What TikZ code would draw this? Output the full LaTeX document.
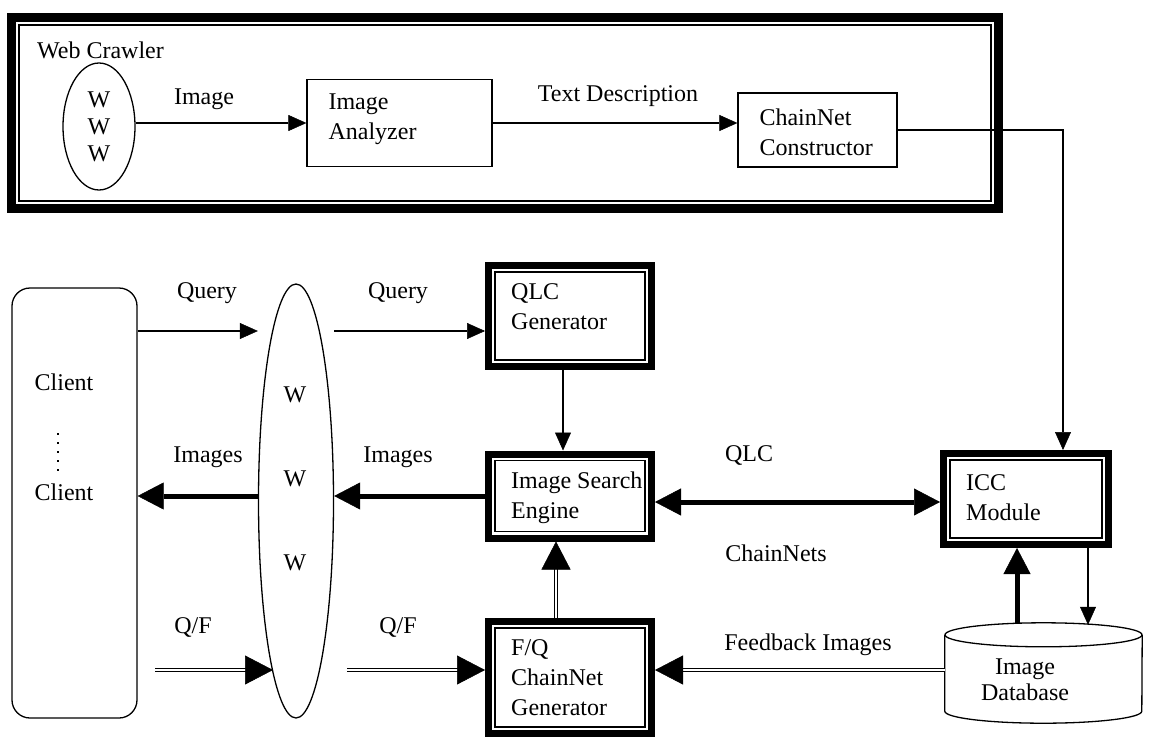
\documentclass[tikz,border=0pt]{standalone}
\usepackage{fontspec}
\setmainfont{Liberation Serif}
\usetikzlibrary{arrows.meta,shapes.geometric,decorations.markings}
\begin{document}
\begin{tikzpicture}[x=1pt,y=-1pt,
  every node/.style={font=\fontsize{24}{30}\selectfont},
  txt/.style={inner sep=0pt, align=left},
  thinbox/.style={draw, line width=1.3pt, inner sep=0pt},
  heavybox/.style={draw, line width=7pt, inner sep=0pt},
  innerline/.style={line width=1.2pt},
  conn/.style={line width=1.3pt},
  arr/.style={conn, -{Triangle[length=18pt,width=16pt,line width=0.5pt]}},
  boldarr/.style={line width=5pt, -{Triangle[length=26pt,width=27pt,line width=0.5pt]}},
  boldboth/.style={line width=5pt, {Triangle[length=26pt,width=27pt,line width=0.5pt]}-{Triangle[length=26pt,width=27pt,line width=0.5pt]}},
  twin/.style={double, double distance=2.6pt, line width=1.1pt, shorten >=22pt,
    postaction={decorate, decoration={markings, mark=at position 1 with {\arrow{Triangle[length=28pt,width=29pt,line width=0.5pt]}}}}},
]
\useasboundingbox (0,0) rectangle (1153,741);
\fill[white] (0,0) rectangle (1153,741);

% ---------- web crawler subsystem ----------
% anchors of a drawn node lie on the outer edge of its border line
\node[heavybox, line width=9pt, minimum width=987pt, minimum height=191pt] (frame) at (505,113) {};
\draw[innerline] ([xshift=12pt,yshift=-12pt]frame.north west) rectangle ([xshift=-12pt,yshift=12pt]frame.south east);
\node[txt, anchor=west] (wc) at (37,50) {Web Crawler};
\node[draw, ellipse, conn, minimum width=72pt, minimum height=127pt, inner sep=0pt] (www) at (99,126.5) {};
\node (w1) at (99,100) {W};
\node (w2) at (99,127) {W};
\node (w3) at (99,154) {W};

\node[thinbox, minimum width=185pt, minimum height=87pt] (ana) at (399.5,123) {};
\node[txt, anchor=west] (anaT) at ([xshift=22pt, yshift=4pt]ana.west) {Image\\Analyzer};
\node[thinbox, minimum width=159pt, minimum height=74pt] (cnc) at (817.5,130) {};
\node[txt, anchor=west] (cncT) at ([xshift=22pt, yshift=-2pt]cnc.west) {ChainNet\\Constructor};

\node (lImage) at (204,99) {Image};
\node (lTD) at (618,96) {Text Description};

% ---------- clients and the web ----------
\node[draw, conn, rounded corners=18pt, minimum width=125pt, minimum height=430pt] (client) at (74.5,503) {};
\node (c1) at (64,382) {Client};
\node (c2) at (64,492) {Client};
\draw[line width=1.5pt, dash pattern=on 1.5pt off 7.5pt] (58,433) -- (58,472);

\node[draw, ellipse, conn, minimum width=75pt, minimum height=434pt, inner sep=0pt] (web) at (296,501) {};
\node (v1) at (295,395) {W};
\node (v2) at (295,479) {W};
\node (v3) at (295,563) {W};

% ---------- server modules ----------
\node[heavybox, minimum width=163pt, minimum height=101pt] (qlc) at (570,316) {};
\node[heavybox, minimum width=163pt, minimum height=84pt] (ise) at (570,496) {};
\node[heavybox, minimum width=163pt, minimum height=112pt] (fq) at (570,677.5) {};
\node[heavybox, minimum width=165pt, minimum height=91pt] (icc) at (1026,499) {};
\foreach \b in {qlc,ise,fq,icc}
  \draw[innerline] ([xshift=10pt,yshift=-10pt]\b.north west) rectangle ([xshift=-10pt,yshift=10pt]\b.south east);
\node[txt, anchor=west] (qlcT) at ([xshift=26pt, yshift=9pt]qlc.west) {QLC\\Generator};
\node[txt, anchor=west] (iseT) at ([xshift=26pt, yshift=-2pt]ise.west) {Image Search\\Engine};
\node[txt, anchor=west] (fqT) at ([xshift=26pt, yshift=0pt]fq.west) {F/Q\\ChainNet\\Generator};
\node[txt, anchor=west] (iccT) at ([xshift=26pt, yshift=1pt]icc.west) {ICC\\Module};

% image database cylinder
\node[minimum width=197pt, minimum height=100pt, inner sep=0pt] (db) at (1043.5,673) {};
\draw[conn] ([yshift=-12pt]db.north) ellipse [x radius=98.5pt, y radius=12pt];
\draw[conn] ([yshift=-12pt]db.north west) -- ([yshift=12pt]db.south west)
  arc[start angle=180, end angle=360, x radius=98.5pt, y radius=12pt] -- ([yshift=-12pt]db.north east);
\node[align=center, inner sep=0pt, font=\fontsize{24}{26}\selectfont] (dbT) at (1025,680) {Image\\Database};

% ---------- connectors ----------
\draw[arr] (www.east |- ana.west) -- (ana.west);
\draw[arr] (ana.east) -- (ana.east -| cnc.west);
\draw[arr] (cnc.east) -| ([xshift=37pt]icc.north);

\coordinate (qy) at (0,331);
\draw[arr] (client.east |- qy) -- (web.west |- qy);
\draw[arr] (web.east |- qy) -- (qlc.west |- qy);
\node (q1) at (207,293) {Query};
\node (q2) at (398,293) {Query};

\draw[boldarr] (web.west |- ise.west) -- (client.east |- ise.west);
\draw[boldarr] (ise.west) -- (web.east |- ise.west);
\node (i1) at (208,457) {Images};
\node (i2) at (398,457) {Images};

\coordinate (qfA) at (155,670);
\coordinate (qfB) at (273,670);
\coordinate (qfC) at (347,670);
\draw[twin] (qfA) -- (qfB);
\draw[twin] (qfC) -- (qfC -| fq.west);
\node (f1) at (193,627) {Q/F};
\node (f2) at (398,627) {Q/F};

\draw[arr] ([xshift=-7pt]qlc.south) -- ([xshift=-7pt]ise.north);
\draw[twin] ([xshift=-14pt]fq.north) -- ([xshift=-14pt]ise.south);

\draw[boldboth] ([yshift=-6pt]ise.east) -- ([yshift=-6pt]ise.east -| icc.west);
\node (lQLC) at (749,455) {QLC};
\node (lCN) at (776,553) {ChainNets};

\draw[twin] (db.west |- qfC) -- (fq.east |- qfC);
\node (lFB) at (808,645) {Feedback Images};

\draw[boldarr] ([xshift=-9pt]icc.south |- db.north) -- ([xshift=-9pt]icc.south);
\draw[arr] ([xshift=62pt]icc.south) -- ([xshift=62pt, yshift=-2pt]icc.south |- db.north);
\end{tikzpicture}
\end{document}
